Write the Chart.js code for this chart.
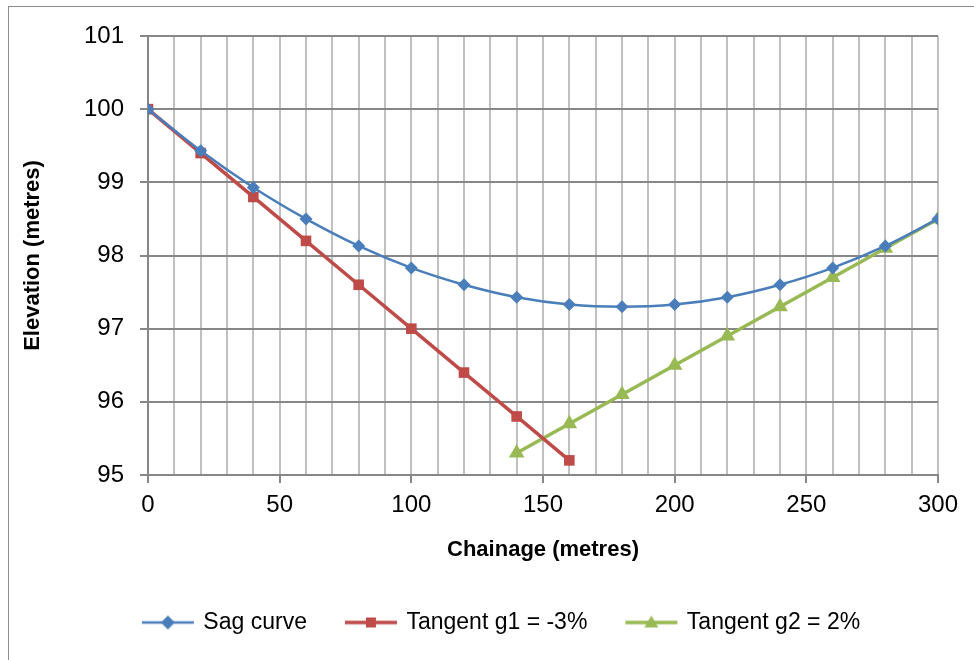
<!DOCTYPE html>
<html>
<head>
<meta charset="utf-8">
<script src="https://cdn.jsdelivr.net/npm/chart.js@4/dist/chart.umd.min.js"></script>
<style>
  html, body { margin: 0; padding: 0; background: #fff; }
  #wrap { width: 974px; height: 660px; }
</style>
</head>
<body>
<div id="wrap"><canvas id="chart" width="974" height="660"></canvas></div>
<script>
// data
const sagChainage = [0, 20, 40, 60, 80, 100, 120, 140, 160, 180, 200, 220, 240, 260, 280, 300];
const sagElevation = [100, 99.43, 98.93, 98.5, 98.13, 97.83, 97.6, 97.43, 97.33, 97.3, 97.33, 97.43, 97.6, 97.83, 98.13, 98.5];
const g1Chainage = [0, 20, 40, 60, 80, 100, 120, 140, 160];
const g1Elevation = [100, 99.4, 98.8, 98.2, 97.6, 97.0, 96.4, 95.8, 95.2];
const g2Chainage = [140, 160, 180, 200, 220, 240, 260, 280, 300];
const g2Elevation = [95.3, 95.7, 96.1, 96.5, 96.9, 97.3, 97.7, 98.1, 98.5];
const seriesNames = ["Sag curve", "Tangent g1 = -3%", "Tangent g2 = 2%"];

const BLUE = "#4a7ebb";
const RED = "#be4b48";
const GREEN = "#98b954";
const GRID_DARK = "#878787";
const GRID_LIGHT = "#c0c0c0";
const FONT = "'Liberation Sans', Arial, sans-serif";

const pts = (xs, ys) => xs.map((x, i) => ({ x: x, y: ys[i] }));

// legend icon: short line with the marker in the middle
function legendIcon(color, lw, marker) {
  const c = document.createElement("canvas");
  c.width = 60; c.height = 20;
  const g = c.getContext("2d");
  g.strokeStyle = color;
  g.fillStyle = color;
  g.lineWidth = lw;
  g.beginPath(); g.moveTo(4, 10); g.lineTo(56, 10); g.stroke();
  g.beginPath();
  if (marker === "diamond") {
    g.moveTo(30, 3); g.lineTo(37, 10); g.lineTo(30, 17); g.lineTo(23, 10);
  } else if (marker === "square") {
    g.rect(25, 5, 10, 10);
  } else {
    g.moveTo(30, 3); g.lineTo(37, 15); g.lineTo(23, 15);
  }
  g.closePath(); g.fill();
  return c;
}
const icons = [
  legendIcon(BLUE, 2.5, "diamond"),
  legendIcon(RED, 3.5, "square"),
  legendIcon(GREEN, 3.5, "triangle")
];

// outer frame of the chart object (cut off at right and bottom)
const framePlugin = {
  id: "frame",
  beforeDraw(chart) {
    const ctx = chart.ctx;
    ctx.save();
    ctx.fillStyle = "#fff";
    ctx.fillRect(0, 0, chart.width, chart.height);
    ctx.strokeStyle = "#8c8c8c";
    ctx.lineWidth = 1;
    ctx.strokeRect(8.5, 6.5, 1200, 1200);
    ctx.restore();
  }
};

const ctx = document.getElementById("chart").getContext("2d");
new Chart(ctx, {
  type: "line",
  data: {
    datasets: [
      {
        label: seriesNames[0],
        data: pts(sagChainage, sagElevation),
        borderColor: BLUE, backgroundColor: BLUE,
        borderWidth: 2.5, tension: 0.35,
        pointStyle: "rectRot", pointRadius: 6.5, pointBorderWidth: 0
      },
      {
        label: seriesNames[1],
        data: pts(g1Chainage, g1Elevation),
        borderColor: RED, backgroundColor: RED,
        borderWidth: 3.5, tension: 0,
        pointStyle: "rect", pointRadius: 7.5, pointBorderWidth: 0
      },
      {
        label: seriesNames[2],
        data: pts(g2Chainage, g2Elevation),
        borderColor: GREEN, backgroundColor: GREEN,
        borderWidth: 3.5, tension: 0,
        pointStyle: "triangle", pointRadius: 9, pointBorderWidth: 0
      }
    ]
  },
  options: {
    responsive: false,
    animation: false,
    // left padding keeps the legend centred where the reference has it
    layout: { padding: { top: 36, right: 36, left: 66, bottom: 16 } },
    plugins: {
      tooltip: { enabled: false },
      legend: {
        position: "bottom",
        labels: {
          font: { family: FONT, size: 23 },
          color: "#000",
          usePointStyle: true,
          pointStyleWidth: 48,
          boxHeight: 20,
          padding: 40,
          generateLabels(chart) {
            const items = Chart.defaults.plugins.legend.labels.generateLabels(chart);
            items.forEach((it, i) => { it.pointStyle = icons[i]; });
            return items;
          }
        }
      }
    },
    scales: {
      x: {
        type: "linear",
        min: 0, max: 300,
        afterFit(scale) { scale.height = 96; },
        ticks: {
          stepSize: 10,
          autoSkip: false,
          maxRotation: 0,
          padding: 8,
          color: "#000",
          font: { family: FONT, size: 24 },
          callback: (v) => (v % 50 === 0 ? String(v) : "")
        },
        grid: {
          color: (c) => (c.tick && c.tick.value === 0 ? GRID_DARK : GRID_LIGHT),
          lineWidth: 2,
          tickLength: 8,
          tickColor: (c) => (c.tick && c.tick.value % 50 === 0 ? GRID_DARK : "rgba(0,0,0,0)")
        },
        border: { color: GRID_DARK, width: 2 },
        title: {
          display: true,
          text: "Chainage (metres)",
          color: "#000",
          font: { family: FONT, size: 22, weight: "bold" },
          padding: { top: 0, bottom: 8 }
        }
      },
      y: {
        type: "linear",
        min: 95, max: 101,
        afterFit(scale) { scale.width = 82; },
        ticks: {
          stepSize: 1,
          padding: 16,
          color: "#000",
          font: { family: FONT, size: 24 }
        },
        grid: {
          color: GRID_DARK,
          lineWidth: 2,
          tickLength: 8,
          tickColor: GRID_DARK
        },
        border: { color: GRID_DARK, width: 2 },
        title: {
          display: true,
          text: "Elevation (metres)",
          color: "#000",
          font: { family: FONT, size: 22, weight: "bold" },
          padding: { top: -46, bottom: 0 }
        }
      }
    }
  },
  plugins: [framePlugin]
});
</script>
</body>
</html>
